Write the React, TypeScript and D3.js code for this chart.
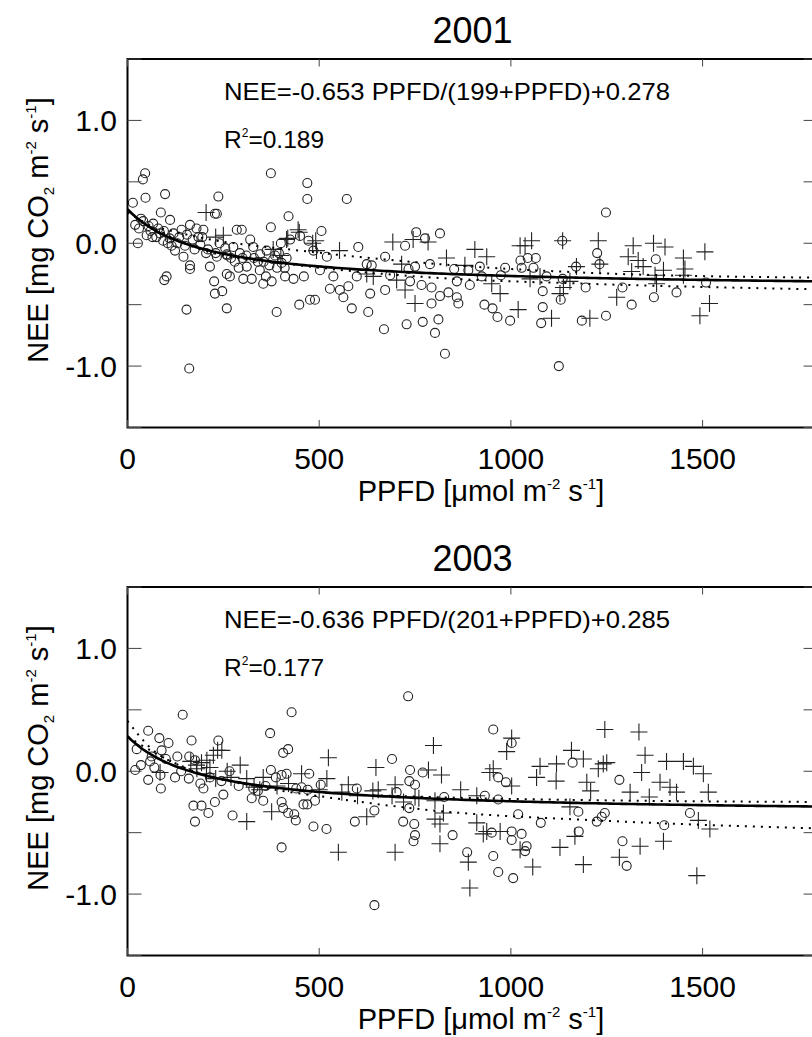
import React from "react";
import * as d3 from "d3";

type P = [number, number];

// ---------- 2001 data (PPFD, NEE) ----------
const circles2001: P[] = [
  [46, 0.57], [40, 0.52], [14, 0.33], [47, 0.37], [98, 0.4], [237, 0.38], [374, 0.57], [469, 0.49], [469, 0.36], [572, 0.36],
  [420, 0.22], [233, 0.24], [228, 0.24], [87, 0.25], [111, 0.19], [41, 0.18], [20, 0.15], [27, 0.0], [50, 0.065], [67, 0.16],
  [80, 0.12], [141, 0.11], [163, 0.15], [180, 0.12], [198, 0.11], [93, 0.02], [124, -0.06], [146, -0.11], [163, -0.18], [163, -0.21],
  [102, -0.27], [96, -0.3], [154, -0.54], [161, -1.02], [226, -0.31], [228, -0.41], [247, -0.39], [259, -0.53], [215, -0.19], [233, -0.11],
  [259, -0.09], [276, -0.03], [285, 0.11], [298, 0.11], [320, 0.03], [328, -0.03], [346, -0.09], [363, -0.06], [374, 0.13], [385, -0.1],
  [402, -0.16], [361, -0.27], [376, -0.31], [354, -0.33], [324, -0.29], [302, -0.29], [267, -0.27], [259, -0.25], [293, -0.08], [311, -0.19],
  [415, -0.12], [424, 0.03], [450, 0.06], [472, 0.02], [485, -0.06], [506, 0.1], [411, -0.27], [433, -0.29], [460, -0.27], [389, -0.56],
  [448, -0.5], [476, -0.46], [489, -0.46], [502, -0.22], [520, -0.11], [528, -0.37], [537, -0.27], [554, -0.38], [563, -0.44], [576, -0.35],
  [585, -0.53], [598, -0.27], [602, -0.03], [624, -0.17], [628, -0.56], [637, -0.18], [633, -0.41], [672, -0.11], [672, -0.38], [669, -0.7],
  [724, -0.02], [733, -0.21], [750, -0.19], [753, 0.09], [767, -0.34], [776, 0.04], [789, -0.17], [793, -0.36], [793, -0.49], [815, 0.08],
  [811, -0.62], [802, -0.73], [728, -0.66], [770, -0.64], [828, -0.9], [837, -0.4], [737, -0.31], [685, -0.26],
  [60, 0.1], [75, 0.05], [85, 0.08], [110, 0.04], [130, 0.0], [150, -0.02], [170, 0.03], [190, -0.01], [210, -0.05], [230, -0.08],
  [260, -0.1], [280, -0.15], [300, -0.12], [340, -0.15], [370, -0.18], [390, -0.2], [30, 0.12], [55, 0.14], [120, 0.08], [185, 0.05],
  [35, 0.2], [65, 0.05], [95, 0.1], [105, 0.0], [115, -0.02], [135, 0.05], [155, 0.07], [175, -0.05], [195, 0.05], [205, -0.08],
  [240, 0.0], [255, -0.04], [270, -0.12], [290, -0.2], [310, -0.1], [330, -0.12], [345, -0.22], [355, -0.15], [380, -0.13], [395, -0.08],
  [400, 0.0], [410, -0.2],
  [815, -0.43], [852, -0.21], [889, -0.22], [919, -0.19], [924, -0.27], [859, -0.31], [893, -0.34], [859, -0.44], [863, -0.49],
  [931, -0.5], [952, -0.53], [965, -0.6], [998, -0.63], [974, -0.26], [985, -0.2], [1025, -0.14], [1028, -0.2], [1044, -0.12], [1059, -0.2],
  [1065, -0.12], [1093, -0.27], [1083, -0.39], [1083, -0.52], [1079, -0.65], [1134, 0.02], [1135, -0.29], [1130, -0.46], [1125, -1.0], [1195, -0.36],
  [1185, -0.63], [1248, -0.59], [1170, -0.19], [1225, -0.08], [1231, -0.17], [1248, 0.25], [1291, -0.36], [1315, -0.5], [1378, -0.13], [1373, -0.44],
  [1432, -0.4], [1509, -0.32],
];

const crosses2001: P[] = [
  [205, 0.25], [250, 0.065], [415, 0.03], [448, 0.09], [483, 0.0], [493, -0.06], [553, -0.06], [692, 0.01], [715, -0.17], [702, -0.3],
  [724, -0.38], [750, -0.49], [745, 0.03], [784, 0.01], [832, -0.12], [624, -0.25], [641, -0.27], [445, 0.11], [418, 0.04], [491, 0.02],
  [380, -0.05], [400, -0.1], [230, 0.05],
  [880, -0.18], [906, -0.05], [937, -0.11], [950, -0.33], [972, -0.41], [1019, -0.54], [1024, -0.02], [1054, 0.02], [1037, -0.02], [1050, -0.29],
  [1076, -0.27], [1106, -0.61], [1135, 0.02], [1137, -0.36], [1154, -0.31], [1171, -0.19], [1128, -0.41], [1206, -0.61], [1228, 0.02], [1232, -0.17],
  [1276, -0.44], [1306, -0.11], [1319, -0.02], [1332, -0.14], [1372, 0.0], [1402, -0.03], [1376, -0.26], [1380, -0.33], [1398, -0.22], [1450, -0.12],
  [1454, -0.21], [1450, -0.26], [1506, -0.07], [1518, -0.49], [1493, -0.59], [1345, -0.19], [1315, -0.23],
];

// ---------- 2003 data ----------
const circles2003: P[] = [
  [20, 0.01], [24, 0.18], [54, 0.33], [54, -0.07], [63, 0.12], [59, 0.08], [83, 0.27], [89, 0.17], [107, 0.23], [87, -0.14],
  [86, -0.03], [124, -0.05], [130, 0.12], [144, 0.46], [167, 0.25], [161, 0.12], [176, 0.09], [172, -0.28], [193, -0.28], [176, -0.41],
  [211, -0.34], [198, -0.14], [237, 0.25], [228, -0.25], [250, -0.19], [266, 0.0], [274, -0.36], [324, -0.22], [328, -0.14], [354, -0.24],
  [372, 0.31], [374, 0.01], [387, -0.05], [402, -0.03], [406, 0.15], [419, 0.18], [428, 0.48], [415, -0.02], [402, -0.25], [406, -0.3],
  [419, -0.34], [435, -0.35], [439, -0.4], [402, -0.62], [474, -0.02], [454, -0.13], [459, -0.27], [469, -0.27], [489, -0.24], [485, -0.45],
  [519, -0.47], [504, -0.11], [598, -0.14], [593, -0.41], [644, -0.32], [644, -1.09], [690, 0.1], [702, -0.17], [719, -0.41], [732, 0.61],
  [737, 0.01], [735, -0.08], [750, -0.11], [770, -0.01], [748, -0.43], [750, -0.52], [746, -0.57], [826, -0.21], [735, -0.3],
  [35, 0.05], [70, 0.03], [100, 0.1], [140, 0.0], [160, -0.06], [190, -0.1], [215, -0.05], [245, -0.08], [290, -0.12], [340, -0.16],
  [360, -0.12], [440, -0.14], [470, -0.15],
  [954, 0.34], [1002, 0.23], [967, -0.05], [987, -0.09], [932, -0.2], [967, -0.23], [1019, -0.35], [1078, -0.42], [1161, 0.07], [1176, -0.33],
  [1177, -0.49], [950, -0.5], [1002, -0.49], [1028, -0.51], [1002, -0.56], [1041, -0.61], [1037, -0.65], [848, -0.52], [886, -0.66], [954, -0.69],
  [967, -0.82], [1006, -0.87], [1224, -0.41], [1237, -0.37], [1245, -0.34], [1283, -0.07], [1291, -0.57], [1302, -0.77], [1400, -0.44], [1467, -0.34],
];

const crosses2003: P[] = [
  [85, -0.01], [193, 0.07], [224, 0.13], [246, 0.17], [206, -0.02], [180, 0.05], [294, 0.05], [311, -0.06], [311, -0.41], [354, -0.05],
  [376, -0.33], [454, -0.02], [524, 0.11], [520, -0.06], [550, -0.66], [576, -0.11], [559, -0.17], [624, -0.37], [648, 0.03], [654, -0.15],
  [698, -0.66], [698, -0.11], [750, -0.21], [798, 0.21], [785, 0.01], [819, -0.03], [802, -0.24], [815, -0.43], [815, -0.59], [824, -0.34],
  [207, 0.09], [235, 0.17], [181, 0.02], [260, 0.0], [270, -0.05],
  [165, 0.08], [215, 0.03], [230, -0.06], [330, -0.13], [345, -0.15], [390, -0.12], [420, -0.1], [500, -0.15], [600, -0.2], [640, -0.16],
  [690, -0.2], [720, -0.25], [760, -0.22],
  [869, -0.15], [911, -0.2], [945, -0.01], [954, 0.02], [1002, 0.27], [989, 0.16], [1002, -0.12], [911, -0.42], [937, -0.49], [972, -0.49],
  [802, -0.39], [889, -0.74], [893, -0.95], [1024, -0.64], [1057, -0.78], [1067, -0.05], [1076, 0.04], [1119, 0.06], [1118, -0.08], [1158, 0.17],
  [1189, 0.1], [1198, -0.09], [1208, -0.16], [1241, 0.06], [1250, 0.07], [1228, 0.02], [1154, -0.29], [1167, -0.53], [1189, -0.76], [1128, -0.62],
  [1245, 0.34], [1334, 0.32], [1350, 0.13], [1341, -0.01], [1361, -0.21], [1311, -0.17], [1337, -0.61], [1283, -0.7], [1398, -0.57], [1389, -0.09],
  [1406, 0.08], [1450, 0.08], [1476, 0.04], [1502, -0.02], [1515, -0.17], [1519, -0.47], [1489, -0.4], [1485, -0.85], [1432, -0.17], [1415, -0.13],
  [928, -0.51],
];

// fitted model NEE = -a PPFD/(b+PPFD) + c
const fit2001 = [0.653, 199, 0.278];
const fit2003 = [0.636, 201, 0.285];

// dotted curves
const dotA2001: P[] = [[90, 0.12], [200, 0.04], [450, -0.06], [700, -0.14], [900, -0.19], [1200, -0.24], [1800, -0.28]];
const dotB2001: P[] = [[0, 0.25], [200, -0.06], [450, -0.18], [800, -0.28], [1200, -0.33], [1800, -0.375]];
const dotA2003: P[] = [[0, 0.28], [200, -0.03], [500, -0.17], [800, -0.21], [1200, -0.235], [1800, -0.25]];
const dotB2003: P[] = [[0, 0.41], [60, 0.19], [150, 0.03], [300, -0.1], [540, -0.22], [789, -0.317], [1224, -0.4], [1800, -0.465]];

const xTicks = [0, 500, 1000, 1500];
const yTicks = [-1.5, -1.0, -0.5, 0, 0.5, 1.0, 1.5];
const yLabels = [-1.0, 0, 1.0];

const FONT = "'Liberation Sans', Arial, Helvetica, sans-serif";

const X0 = 127.5, X1 = 817.6, TOP = 59, BOT = 427.5;

function Panel({ dy, title, circles, crosses, fit, dotA, dotB, eq, r2 }: any) {
  const x = d3.scaleLinear().domain([0, 1800]).range([X0, X1]);
  const y = d3.scaleLinear().domain([-1.5, 1.5]).range([BOT + dy, TOP + dy]);
  const [a, b, c] = fit;
  const fitPts: P[] = d3.range(0, 1801, 10).map((p) => [p, (-a * p) / (b + p) + c]);
  const line = d3.line<P>().x((d) => x(d[0])).y((d) => y(d[1]));
  const dline = d3.line<P>().x((d) => x(d[0])).y((d) => y(d[1])).curve(d3.curveMonotoneX);
  const top = TOP + dy, bot = BOT + dy;
  const cx = (X0 + X1) / 2;
  return (
    <g>
      <text x={cx} y={top - 16.5} fontSize={36} textAnchor="middle" fontFamily={FONT}>{title}</text>
      {circles.map((d: P, i: number) => (
        <circle key={"c" + i} cx={x(d[0])} cy={y(d[1])} r={4.5} fill="none" stroke="#222" strokeWidth={1.1} />
      ))}
      {crosses.map((d: P, i: number) => (
        <path key={"p" + i} d={`M${x(d[0]) - 8.5},${y(d[1])}h17M${x(d[0])},${y(d[1]) - 8.5}v17`} stroke="#222" strokeWidth={1.1} fill="none" />
      ))}
      <path d={dline(dotA) || ""} fill="none" stroke="#000" strokeWidth={2} strokeDasharray="2,6" />
      <path d={dline(dotB) || ""} fill="none" stroke="#000" strokeWidth={2} strokeDasharray="2,6" />
      <path d={line(fitPts) || ""} fill="none" stroke="#000" strokeWidth={2.6} />
      <rect x={X0} y={top} width={X1 - X0} height={bot - top} fill="none" stroke="#000" strokeWidth={2} />
      {yTicks.map((t) => (
        <g key={"yt" + t}>
          <line x1={X0} x2={X0 + 14} y1={y(t)} y2={y(t)} stroke="#444" strokeWidth={1} />
          <line x1={X1 - 14} x2={X1} y1={y(t)} y2={y(t)} stroke="#444" strokeWidth={1} />
        </g>
      ))}
      {xTicks.map((t) => (
        <g key={"xt" + t}>
          <line x1={x(t)} x2={x(t)} y1={bot} y2={bot - 7.5} stroke="#444" strokeWidth={1} />
          <line x1={x(t)} x2={x(t)} y1={top} y2={top + 7.5} stroke="#444" strokeWidth={1} />
          <text x={x(t)} y={bot + 41} fontSize={30} textAnchor="middle" fontFamily={FONT}>{t}</text>
        </g>
      ))}
      {yLabels.map((t) => (
        <text key={"yl" + t} x={117} y={y(t) + 11} fontSize={30} textAnchor="end" fontFamily={FONT}>
          {t.toFixed(1)}
        </text>
      ))}
      <text x={224} y={top + 41} fontSize={24.5} fontFamily={FONT} textLength={446} lengthAdjust="spacingAndGlyphs">{eq}</text>
      <text x={224} y={top + 89} fontSize={24.5} fontFamily={FONT}>
        R<tspan fontSize={12} dy={-11}>2</tspan><tspan dy={11}>={r2}</tspan>
      </text>
      <text x={481} y={bot + 73} fontSize={29} textAnchor="middle" fontFamily={FONT}>
        PPFD [μmol m<tspan fontSize={15} dy={-12}>-2</tspan><tspan dy={12}> s</tspan><tspan fontSize={15} dy={-12}>-1</tspan><tspan dy={12}>]</tspan>
      </text>
      <text transform={`translate(48,${top + 171}) rotate(-90)`} fontSize={29} textAnchor="middle" fontFamily={FONT}>
        NEE [mg CO<tspan fontSize={15} dy={6}>2</tspan><tspan dy={-6}> m</tspan><tspan fontSize={15} dy={-12}>-2</tspan><tspan dy={12}> s</tspan><tspan fontSize={15} dy={-12}>-1</tspan><tspan dy={12}>]</tspan>
      </text>
    </g>
  );
}

export default function App() {
  return (
    <svg width={812} height={1037} style={{ position: "absolute", left: 0, top: 0, background: "#fff" }}>
      <rect width={812} height={1037} fill="#fff" />
      <Panel dy={0} title="2001" circles={circles2001} crosses={crosses2001} fit={fit2001} dotA={dotA2001} dotB={dotB2001}
        eq="NEE=-0.653 PPFD/(199+PPFD)+0.278" r2="0.189" />
      <Panel dy={528} title="2003" circles={circles2003} crosses={crosses2003} fit={fit2003} dotA={dotA2003} dotB={dotB2003}
        eq="NEE=-0.636 PPFD/(201+PPFD)+0.285" r2="0.177" />
    </svg>
  );
}
